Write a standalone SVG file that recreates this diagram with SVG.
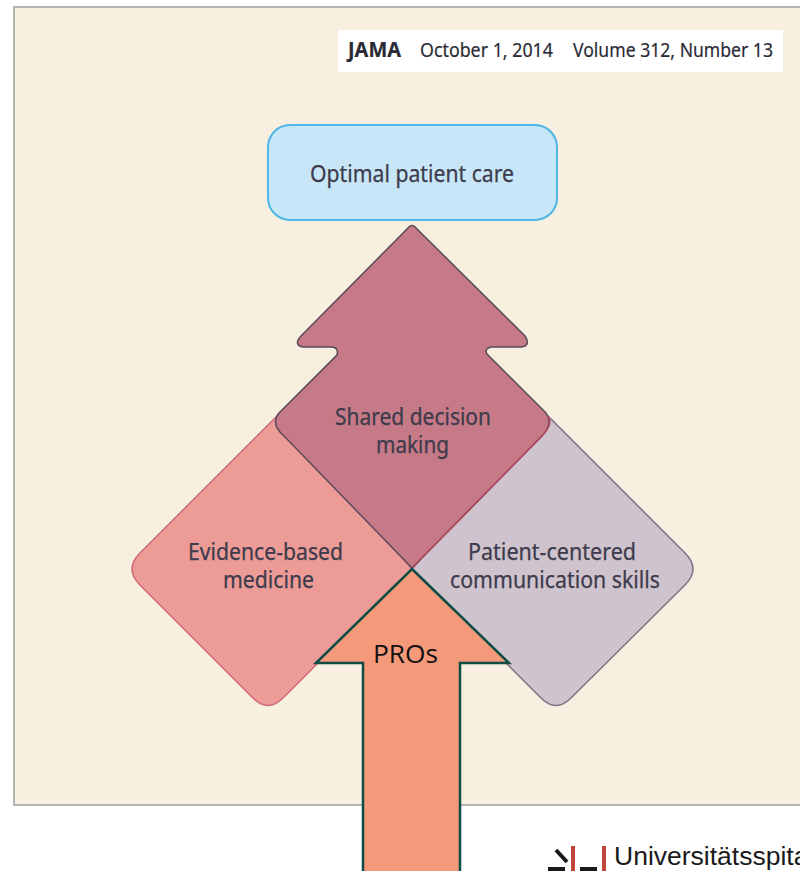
<svg xmlns="http://www.w3.org/2000/svg" width="800" height="871" viewBox="0 0 800 871">
<style>
.l{font-family:"Noto Sans","Liberation Sans",sans-serif;fill:#3d3b4c;text-anchor:middle;font-size:23px;stroke:#3d3b4c;stroke-width:.25px}
.h{font-family:"Noto Sans","Liberation Sans",sans-serif;fill:#2a2a35;font-size:20.500px;stroke:#2a2a35;stroke-width:.2px}
</style>
<rect width="800" height="871" fill="#fff"/>
<rect id="panel" x="14" y="7" width="800" height="798" fill="#f7f0e1" stroke="#b4b4b0" stroke-width="2"/>
<g id="header">
<rect x="338" y="30" width="445" height="42" fill="#fff"/>
<text class="h" x="348" y="57" font-weight="700" textLength="53" lengthAdjust="spacingAndGlyphs">JAMA</text>
<text class="h" x="420" y="57" textLength="133" lengthAdjust="spacingAndGlyphs">October 1, 2014</text>
<text class="h" x="573" y="57" textLength="200" lengthAdjust="spacingAndGlyphs">Volume 312, Number 13</text>
</g>
<g id="optimal-care">
<rect x="268" y="125" width="289" height="95" rx="22" fill="#c7e6f7" stroke="#4db6e4" stroke-width="2"/>
<text class="l" x="412" y="182" textLength="204" lengthAdjust="spacingAndGlyphs">Optimal patient care</text>
</g>
<g id="evidence-based">
<path d="M277 416L140 553Q124 569 140 585L252 697Q268 714 284 697L412 569L277 416Z" fill="#ec9b97" stroke="#d16a78" stroke-width="1.500"/>
<text class="l" x="265.500" y="560" textLength="155" lengthAdjust="spacingAndGlyphs">Evidence-based</text>
<text class="l" x="268.500" y="588" textLength="91" lengthAdjust="spacingAndGlyphs">medicine</text>
</g>
<g id="patient-centered">
<path d="M548 416L685 553Q701 569 685 585L572 697Q556 714 540 697L412 569L548 416Z" fill="#cfc3cd" stroke="#857085" stroke-width="1.500"/>
<text class="l" x="552" y="560" textLength="168" lengthAdjust="spacingAndGlyphs">Patient-centered</text>
<text class="l" x="555" y="588" textLength="210" lengthAdjust="spacingAndGlyphs">communication skills</text>
</g>
<g id="shared-decision">
<path d="M412 568L284 436Q270 424 279 413L337 355Q339 347 331 347H303Q293 345 301 336L407 229Q412 222 417 229L525 336Q531 345 522 347H491Q484 349 487 354L546 413Q554 424 541 437Z" fill="#c67a87" stroke="#5b4a5a" stroke-width="1.500"/>
<path d="M412 568L541 437Q554 424 548 416" fill="none" stroke="#b8485f" stroke-width="1.500"/>
<text class="l" x="413" y="425" textLength="156" lengthAdjust="spacingAndGlyphs">Shared decision</text>
<text class="l" x="412.500" y="453" textLength="73" lengthAdjust="spacingAndGlyphs">making</text>
</g>
<g id="pros">
<path d="M412 569L509 663H460V880H363V663H316Z" fill="#f4997a" stroke="#0f4d44" stroke-width="2.500"/>
<text x="405.500" y="663" font-family="Open Sans,Noto Sans,sans-serif" font-size="26" fill="#111" text-anchor="middle" textLength="65" lengthAdjust="spacingAndGlyphs">PROs</text>
</g>
<g id="logo">
<path d="M556 850L567 862" stroke="#1a1a1a" stroke-width="4" fill="none"/>
<rect x="548" y="867" width="17" height="4" fill="#1a1a1a"/>
<rect x="571" y="846" width="4" height="25" fill="#c0453a"/>
<rect x="580" y="867" width="17" height="4" fill="#1a1a1a"/>
<rect x="602" y="846" width="4" height="25" fill="#c0453a"/>
<text x="614" y="865" font-family="Liberation Sans,Arial,sans-serif" font-size="26.500" fill="#1a1a1a">Universitätsspita</text>
</g>
</svg>
